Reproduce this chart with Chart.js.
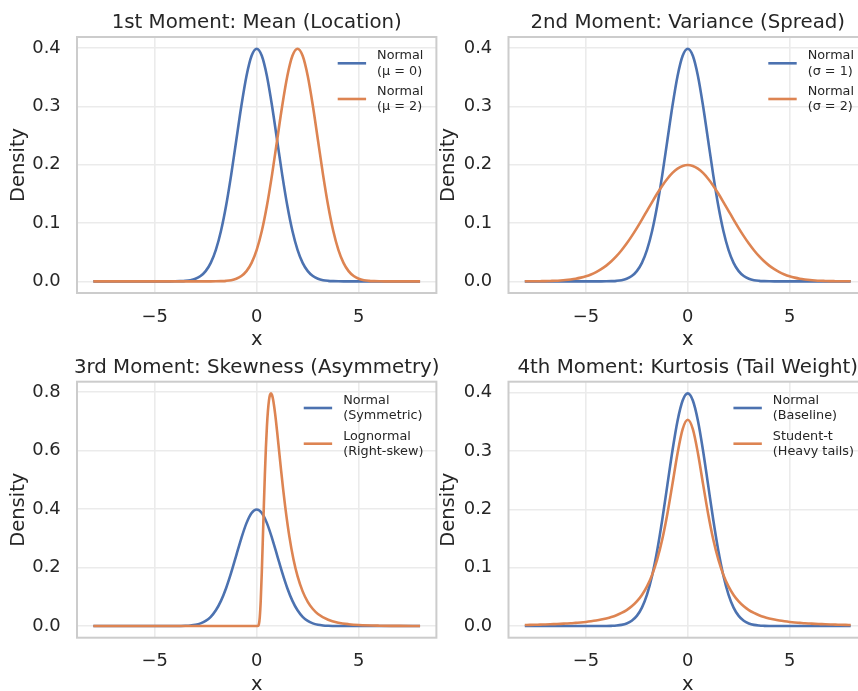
<!DOCTYPE html>
<html><head><meta charset="utf-8">
<script src="https://cdn.jsdelivr.net/npm/chart.js@4.4.0/dist/chart.umd.min.js"></script>
<style>
html,body{margin:0;padding:0;background:#fff;}
#wrap{position:relative;width:858px;height:691px;overflow:hidden;background:#fff;}
canvas{position:absolute;left:0;top:0;}
</style></head><body>
<div id="wrap">
<canvas id="c1" width="900" height="700"></canvas>
<canvas id="c2" width="900" height="700"></canvas>
<canvas id="c3" width="900" height="700"></canvas>
<canvas id="c4" width="900" height="700"></canvas>
</div>
<script>
// ---- data ----
const xs = [-8,-7.75,-7.5,-7.25,-7,-6.75,-6.5,-6.25,-6,-5.75,-5.5,-5.25,-5,-4.75,-4.5,-4.25,-4,-3.75,-3.5,-3.25,-3,-2.75,-2.5,-2.25,-2,-1.75,-1.5,-1.25,-1,-0.75,-0.5,-0.25,0,0.25,0.5,0.75,1,1.25,1.5,1.75,2,2.25,2.5,2.75,3,3.25,3.5,3.75,4,4.25,4.5,4.75,5,5.25,5.5,5.75,6,6.25,6.5,6.75,7,7.25,7.5,7.75,8];

const normalMu0 = [0,0,0,0,0,0,0,0,0,0,0,0,0,0,0,0,
 0.0001,0.0004,0.0009,0.0020,0.0044,0.0091,0.0175,0.0317,0.0540,0.0863,0.1295,0.1826,0.2420,0.3011,0.3521,0.3867,0.3989,
 0.3867,0.3521,0.3011,0.2420,0.1826,0.1295,0.0863,0.0540,0.0317,0.0175,0.0091,0.0044,0.0020,0.0009,0.0004,0.0001,
 0,0,0,0,0,0,0,0,0,0,0,0,0,0,0,0];

const normalMu2 = [0,0,0,0,0,0,0,0,0,0,0,0,0,0,0,0,0,0,0,0,0,0,0,0,
 0.0001,0.0004,0.0009,0.0020,0.0044,0.0091,0.0175,0.0317,0.0540,0.0863,0.1295,0.1826,0.2420,0.3011,0.3521,0.3867,0.3989,
 0.3867,0.3521,0.3011,0.2420,0.1826,0.1295,0.0863,0.0540,0.0317,0.0175,0.0091,0.0044,0.0020,0.0009,0.0004,0.0001,
 0,0,0,0,0,0,0,0];

const normalSigma1 = normalMu0;
const normalSigma2 = [0.0001,0.0001,0.0002,0.0003,0.0004,0.0007,0.0010,0.0015,0.0022,0.0032,0.0045,0.0064,0.0088,0.0119,0.0159,0.0209,
 0.0270,0.0344,0.0431,0.0533,0.0648,0.0775,0.0913,0.1059,0.1210,0.1360,0.1506,0.1641,0.1760,0.1859,0.1933,0.1979,0.1995,
 0.1979,0.1933,0.1859,0.1760,0.1641,0.1506,0.1360,0.1210,0.1059,0.0913,0.0775,0.0648,0.0533,0.0431,0.0344,0.0270,
 0.0209,0.0159,0.0119,0.0088,0.0064,0.0045,0.0032,0.0022,0.0015,0.0010,0.0007,0.0004,0.0003,0.0002,0.0001,0.0001];

const normalSymmetric = normalMu0;
const lognormalX = [-8,0,0.05,0.1,0.15,0.2,0.25,0.3,0.35,0.4,0.45,0.5,0.55,0.6,0.65,0.7,0.75,0.8,0.9,1.0,1.1,1.2,1.3,1.4,1.6,1.8,2.0,2.25,2.5,2.75,3.0,3.5,4.0,4.5,5.0,6.0,7.0,8.0];
const lognormalY = [0,0,0.0001,0.0042,0.0299,0.0910,0.1844,0.2961,0.4111,0.5180,0.6095,0.6823,0.7359,0.7713,0.7904,0.7960,0.7902,0.7756,0.7275,0.6649,0.5969,0.5291,0.4648,0.4058,0.3058,0.2286,0.1706,0.1186,0.0829,0.0584,0.0415,0.0215,0.0115,0.0064,0.0036,0.0013,0.0005,0.0002];

const normalBaseline = normalMu0;
const studentT = [0.0019,0.0020,0.0022,0.0025,0.0027,0.0030,0.0034,0.0038,0.0043,0.0048,0.0055,0.0062,0.0071,0.0082,0.0095,0.0111,
 0.0131,0.0155,0.0186,0.0225,0.0274,0.0338,0.0422,0.0533,0.0680,0.0878,0.1141,0.1487,0.1925,0.2438,0.2963,0.3376,0.3536,
 0.3376,0.2963,0.2438,0.1925,0.1487,0.1141,0.0878,0.0680,0.0533,0.0422,0.0338,0.0274,0.0225,0.0186,0.0155,0.0131,
 0.0111,0.0095,0.0082,0.0071,0.0062,0.0055,0.0048,0.0043,0.0038,0.0034,0.0030,0.0027,0.0025,0.0022,0.0020,0.0019];

const titles = ['1st Moment: Mean (Location)','2nd Moment: Variance (Spread)','3rd Moment: Skewness (Asymmetry)','4th Moment: Kurtosis (Tail Weight)'];
const legends = [
  [['Normal','(\u03bc = 0)'],['Normal','(\u03bc = 2)']],
  [['Normal','(\u03c3 = 1)'],['Normal','(\u03c3 = 2)']],
  [['Normal','(Symmetric)'],['Lognormal','(Right-skew)']],
  [['Normal','(Baseline)'],['Student-t','(Heavy tails)']]
];
const xTicks = [-5,0,5];
const yTicksA = [0,0.1,0.2,0.3,0.4];
const yTicksB = [0,0.2,0.4,0.6,0.8];
const xLabel = 'x';
const yLabel = 'Density';

// ---- style / layout ----
const BLUE='#4C72B0', ORANGE='#DD8452', TXT='#262626', FONT="'DejaVu Sans'";
const CW=900, CH=700, YW=77, XH=60;
const areas = [
  {l:77, t:37, r:436.4, b:293},
  {l:508.5, t:37, r:867, b:293},
  {l:77, t:381.7, r:436.4, b:637.7},
  {l:508.5, t:381.7, r:867, b:637.7}
];
const yLabelX = [18.5, 448.5, 18.5, 448.5];
const xLabelY = [339.8, 339.8, 684.7, 684.7];

function pts(x, y){ return x.map((v,i)=>({x:v, y:y[i]})); }
const panelSeries = [
  [pts(xs,normalMu0), pts(xs,normalMu2)],
  [pts(xs,normalSigma1), pts(xs,normalSigma2)],
  [pts(xs,normalSymmetric), pts(lognormalX,lognormalY)],
  [pts(xs,normalBaseline), pts(xs,studentT)]
];
const yRanges = [[-0.01995,0.41895],[-0.01995,0.41895],[-0.0398,0.8358],[-0.01995,0.41895]];
const yTickSets = [yTicksA,yTicksA,yTicksB,yTicksA];

const deco = {
  id:'deco',
  afterDraw(chart, args, opts){
    const {ctx, chartArea:a} = chart;
    const k = opts.k;
    ctx.save();
    ctx.strokeStyle = '#cccccc'; ctx.lineWidth = 2;
    ctx.strokeRect(a.left, a.top, a.right-a.left, a.bottom-a.top);
    ctx.fillStyle = TXT; ctx.font = "19.8px "+FONT; ctx.textAlign='center'; ctx.textBaseline='alphabetic';
    ctx.fillText(titles[k], (a.left+a.right)/2, a.top-8.7);
    ctx.font = "12.8px "+FONT; ctx.textAlign='left';
    const lg = legends[k];
    let maxW = 0;
    lg.forEach(e=>e.forEach(t=>{maxW=Math.max(maxW, ctx.measureText(t).width);}));
    const tx = a.right - 13 - maxW;
    chart.data.datasets.forEach((ds,i)=>{
      const hy = a.top + 26.3 + i*35.7;
      ctx.strokeStyle = ds.borderColor; ctx.lineWidth = 2.6; ctx.lineCap='butt';
      ctx.beginPath(); ctx.moveTo(tx-39.4, hy); ctx.lineTo(tx-11, hy); ctx.stroke();
      ctx.fillStyle = TXT;
      ctx.fillText(lg[i][0], tx, hy-4);
      ctx.fillText(lg[i][1], tx, hy+11.4);
    });
    ctx.restore();
  }
};

function fmtX(v){ return v<0 ? '\u2212'+Math.abs(v) : String(v); }

for (let k=0;k<4;k++){
  const A = areas[k];
  const lhT = 19.5*1.2;
  new Chart(document.getElementById('c'+(k+1)), {
    type:'line',
    data:{ datasets:[
      {data:panelSeries[k][0], borderColor:BLUE, borderWidth:2.6, pointRadius:0, cubicInterpolationMode:'monotone', borderJoinStyle:'round', fill:false, order:1},
      {data:panelSeries[k][1], borderColor:ORANGE, borderWidth:2.6, pointRadius:0, cubicInterpolationMode:'monotone', borderJoinStyle:'round', fill:false, order:0}
    ]},
    options:{
      responsive:false, animation:false, devicePixelRatio:1, events:[],
      layout:{padding:{left:A.l-YW, top:A.t, right:CW-A.r, bottom:CH-A.b-XH}},
      plugins:{legend:{display:false}, tooltip:{enabled:false}, title:{display:false}, deco:{k:k}},
      scales:{
        x:{type:'linear', min:-8.8, max:8.8,
           afterBuildTicks:s=>{ s.ticks = xTicks.map(v=>({value:v})); },
           afterFit:s=>{ s.height = XH; },
           ticks:{callback:v=>fmtX(v), font:{family:FONT,size:17.9}, color:TXT, padding:13.4, maxRotation:0, autoSkip:false},
           grid:{color:'#ebebeb', lineWidth:1.6, drawTicks:false},
           border:{display:false},
           title:{display:true, text:xLabel, font:{family:FONT,size:19.5}, color:TXT, padding:{top:0,bottom:(A.b+XH)-lhT/2-xLabelY[k]}}
        },
        y:{type:'linear', min:yRanges[k][0], max:yRanges[k][1],
           afterBuildTicks:s=>{ s.ticks = yTickSets[k].map(v=>({value:v})); },
           afterFit:s=>{ s.width = YW; },
           ticks:{callback:v=>Number(v).toFixed(1), font:{family:FONT,size:17.9}, color:TXT, padding:16.3, autoSkip:false},
           grid:{color:'#ebebeb', lineWidth:1.6, drawTicks:false},
           border:{display:false},
           title:{display:true, text:yLabel, font:{family:FONT,size:19.5}, color:TXT, padding:{top:yLabelX[k]-(A.l-YW)-lhT/2, bottom:0}}
        }
      }
    },
    plugins:[deco]
  });
}
</script>
</body></html>
